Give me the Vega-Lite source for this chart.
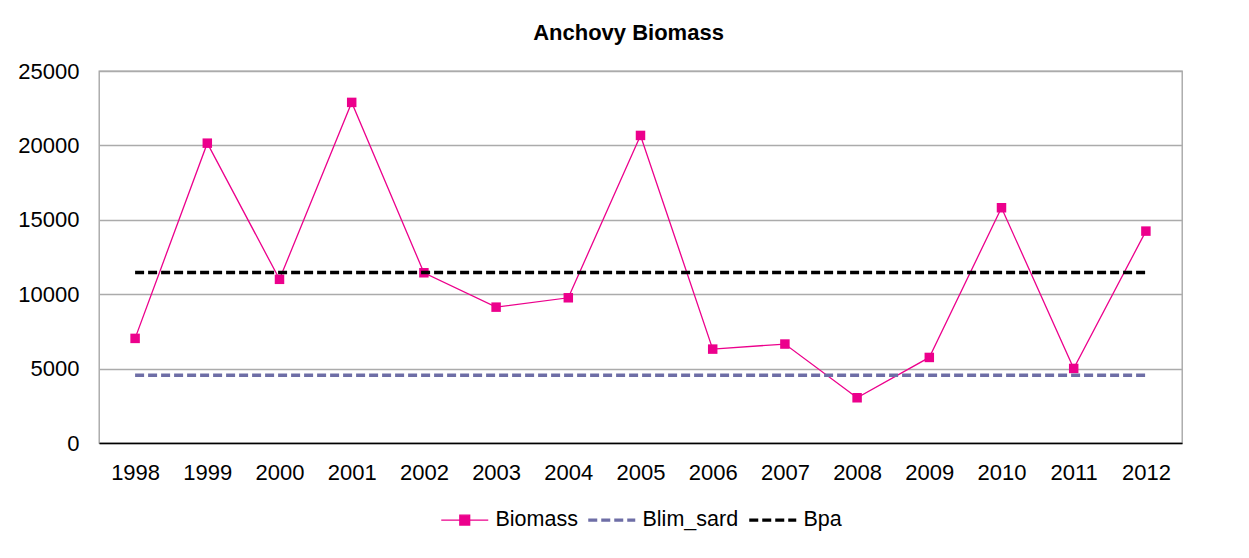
{
  "$schema": "https://vega.github.io/schema/vega-lite/v6.json",
  "width": 1083,
  "height": 372,
  "autosize": {"type": "none"},
  "padding": {"left": 99, "top": 71, "right": 67, "bottom": 115},
  "background": "white",
  "title": {"text": "Anchovy Biomass", "fontSize": 22, "font": "Liberation Sans", "fontWeight": "bold", "color": "black", "anchor": "middle", "baseline": "alphabetic", "frame": "group", "offset": -2, "dx": -12},
  "data": {"values": [
    {"year": "1998", "series": "Biomass", "value": 7030},
    {"year": "1999", "series": "Biomass", "value": 20150},
    {"year": "2000", "series": "Biomass", "value": 11000},
    {"year": "2001", "series": "Biomass", "value": 22890},
    {"year": "2002", "series": "Biomass", "value": 11440},
    {"year": "2003", "series": "Biomass", "value": 9130},
    {"year": "2004", "series": "Biomass", "value": 9760},
    {"year": "2005", "series": "Biomass", "value": 20670},
    {"year": "2006", "series": "Biomass", "value": 6310},
    {"year": "2007", "series": "Biomass", "value": 6650},
    {"year": "2008", "series": "Biomass", "value": 3040},
    {"year": "2009", "series": "Biomass", "value": 5750},
    {"year": "2010", "series": "Biomass", "value": 15810},
    {"year": "2011", "series": "Biomass", "value": 5010},
    {"year": "2012", "series": "Biomass", "value": 14240},
    {"year": "1998", "series": "Blim_sard", "value": 4560},
    {"year": "1999", "series": "Blim_sard", "value": 4560},
    {"year": "2000", "series": "Blim_sard", "value": 4560},
    {"year": "2001", "series": "Blim_sard", "value": 4560},
    {"year": "2002", "series": "Blim_sard", "value": 4560},
    {"year": "2003", "series": "Blim_sard", "value": 4560},
    {"year": "2004", "series": "Blim_sard", "value": 4560},
    {"year": "2005", "series": "Blim_sard", "value": 4560},
    {"year": "2006", "series": "Blim_sard", "value": 4560},
    {"year": "2007", "series": "Blim_sard", "value": 4560},
    {"year": "2008", "series": "Blim_sard", "value": 4560},
    {"year": "2009", "series": "Blim_sard", "value": 4560},
    {"year": "2010", "series": "Blim_sard", "value": 4560},
    {"year": "2011", "series": "Blim_sard", "value": 4560},
    {"year": "2012", "series": "Blim_sard", "value": 4560},
    {"year": "1998", "series": "Bpa", "value": 11465},
    {"year": "1999", "series": "Bpa", "value": 11465},
    {"year": "2000", "series": "Bpa", "value": 11465},
    {"year": "2001", "series": "Bpa", "value": 11465},
    {"year": "2002", "series": "Bpa", "value": 11465},
    {"year": "2003", "series": "Bpa", "value": 11465},
    {"year": "2004", "series": "Bpa", "value": 11465},
    {"year": "2005", "series": "Bpa", "value": 11465},
    {"year": "2006", "series": "Bpa", "value": 11465},
    {"year": "2007", "series": "Bpa", "value": 11465},
    {"year": "2008", "series": "Bpa", "value": 11465},
    {"year": "2009", "series": "Bpa", "value": 11465},
    {"year": "2010", "series": "Bpa", "value": 11465},
    {"year": "2011", "series": "Bpa", "value": 11465},
    {"year": "2012", "series": "Bpa", "value": 11465}
  ]},
  "encoding": {
    "x": {
      "field": "year", "type": "ordinal",
      "scale": {"type": "point", "padding": 0.5},
      "axis": {"title": null, "labelAngle": 0, "ticks": false, "domainColor": "black", "domainWidth": 1.5, "grid": false, "labelFontSize": 22, "labelFont": "Liberation Sans", "labelColor": "black", "labelPadding": 19}
    },
    "y": {
      "field": "value", "type": "quantitative",
      "scale": {"domain": [0, 25000], "nice": false},
      "axis": {"title": null, "values": [0, 5000, 10000, 15000, 20000, 25000], "format": "d", "grid": true, "gridColor": "#ABABAB", "gridWidth": 1.3, "domain": false, "ticks": false, "labelFontSize": 22, "labelFont": "Liberation Sans", "labelColor": "black", "labelPadding": 20}
    }
  },
  "layer": [
    {
      "transform": [{"filter": "datum.series === 'Biomass'"}],
      "mark": {"type": "line", "strokeWidth": 1.3},
      "encoding": {
        "color": {
          "field": "series", "type": "nominal",
          "scale": {"domain": ["Biomass", "Blim_sard", "Bpa"], "range": ["#EC008C", "#6E6EA6", "#000000"]},
          "legend": {
            "title": null, "orient": "none", "direction": "horizontal", "legendX": 355, "legendY": 438,
            "labelFontSize": 21.5, "labelFont": "Liberation Sans", "labelColor": "black",
            "symbolType": "stroke", "symbolSize": 2209, "symbolStrokeWidth": 3, "labelOffset": 20, "columnPadding": 3, "padding": 0,
            "encode": {"symbols": {"update": {
              "shape": {"signal": "datum.value === 'Biomass' ? 'M-1,0H1M-0.21,-0.21H0.21V0.21H-0.21Z' : 'stroke'"},
              "fill": {"signal": "datum.value === 'Biomass' ? '#EC008C' : 'transparent'"},
              "strokeWidth": {"signal": "datum.value === 'Biomass' ? 1.3 : 3.2"},
              "strokeDash": {"signal": "datum.value === 'Biomass' ? [1, 0] : [9, 4]"}
            }}}
          }
        }
      }
    },
    {
      "transform": [{"filter": "datum.series === 'Biomass'"}],
      "mark": {"type": "point", "shape": "square", "filled": true, "size": 90, "opacity": 1, "color": "#EC008C"}
    },
    {
      "transform": [{"filter": "datum.series !== 'Biomass'"}],
      "mark": {"type": "line", "strokeWidth": 3.5, "strokeDash": [9, 4]},
      "encoding": {
        "color": {
          "field": "series", "type": "nominal",
          "scale": {"domain": ["Biomass", "Blim_sard", "Bpa"], "range": ["#EC008C", "#6E6EA6", "#000000"]}
        }
      }
    }
  ],
  "config": {
    "view": {"stroke": "#A0A0A0", "strokeWidth": 1.3},
    "font": "Liberation Sans"
  }
}
